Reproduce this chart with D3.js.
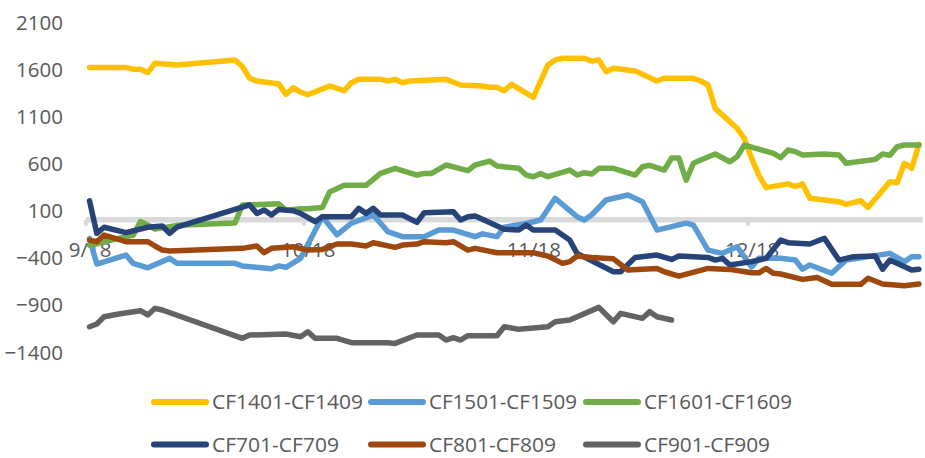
<!DOCTYPE html>
<html>
<head>
<meta charset="utf-8">
<script src="https://cdn.jsdelivr.net/npm/d3@7"></script>
<style>
  html, body { margin: 0; padding: 0; background: #fff; }
  svg { display: block; }
  text { font-family: "Open Sans", "Liberation Sans", sans-serif; fill: #595959; }
</style>
</head>
<body>
<svg id="chart" width="925" height="458"></svg>
<script>
// Cotton futures calendar spreads (near contract minus September contract), by trading date
const seriesNames = ["CF1401-CF1409", "CF1501-CF1509", "CF1601-CF1609", "CF701-CF709", "CF801-CF809", "CF901-CF909"];

const cf1401 = [
  ["2013-09-18", 1615], ["2013-09-23", 1615], ["2013-09-24", 1595], ["2013-09-25", 1595], ["2013-09-26", 1560],
  ["2013-09-27", 1660], ["2013-09-30", 1640], ["2013-10-08", 1694], ["2013-10-09", 1625], ["2013-10-10", 1500],
  ["2013-10-11", 1470], ["2013-10-14", 1440], ["2013-10-15", 1330], ["2013-10-16", 1400], ["2013-10-17", 1354],
  ["2013-10-18", 1325], ["2013-10-21", 1418], ["2013-10-23", 1368], ["2013-10-24", 1453], ["2013-10-25", 1489],
  ["2013-10-28", 1489], ["2013-10-29", 1471], ["2013-10-30", 1489], ["2013-10-31", 1453], ["2013-11-01", 1471],
  ["2013-11-06", 1489], ["2013-11-08", 1429], ["2013-11-11", 1418], ["2013-11-12", 1404], ["2013-11-13", 1404],
  ["2013-11-14", 1368], ["2013-11-15", 1436], ["2013-11-18", 1298], ["2013-11-20", 1641], ["2013-11-21", 1694],
  ["2013-11-22", 1712], ["2013-11-25", 1712], ["2013-11-26", 1683], ["2013-11-27", 1694], ["2013-11-28", 1570],
  ["2013-11-29", 1606], ["2013-12-02", 1577], ["2013-12-05", 1471], ["2013-12-06", 1500], ["2013-12-10", 1500],
  ["2013-12-11", 1471], ["2013-12-12", 1429], ["2013-12-13", 1181], ["2013-12-16", 969], ["2013-12-17", 863],
  ["2013-12-18", 650], ["2013-12-19", 470], ["2013-12-20", 340], ["2013-12-23", 380], ["2013-12-24", 352],
  ["2013-12-25", 380], ["2013-12-26", 227], ["2013-12-30", 191], ["2013-12-31", 163], ["2014-01-02", 202],
  ["2014-01-03", 130], ["2014-01-06", 403], ["2014-01-07", 392], ["2014-01-08", 598], ["2014-01-09", 545],
  ["2014-01-10", 800]
];

const cf1501 = [
  ["2013-09-18", -200], ["2013-09-19", -470], ["2013-09-23", -375], ["2013-09-24", -463], ["2013-09-26", -510],
  ["2013-09-29", -410], ["2013-09-30", -463], ["2013-10-08", -463], ["2013-10-09", -490], ["2013-10-13", -520],
  ["2013-10-14", -490], ["2013-10-15", -505], ["2013-10-17", -410], ["2013-10-20", 32], ["2013-10-22", -160],
  ["2013-10-24", -36], ["2013-10-27", 50], ["2013-10-29", -127], ["2013-10-31", -180], ["2013-11-03", -180],
  ["2013-11-05", -110], ["2013-11-07", -110], ["2013-11-10", -180], ["2013-11-11", -150], ["2013-11-13", -180],
  ["2013-11-14", -80], ["2013-11-17", -40], ["2013-11-19", -3], ["2013-11-21", 227], ["2013-11-24", 32],
  ["2013-11-25", -3], ["2013-11-26", 50], ["2013-11-28", 209], ["2013-12-01", 262], ["2013-12-03", 191],
  ["2013-12-05", -110], ["2013-12-09", -36], ["2013-12-10", -57], ["2013-12-12", -322], ["2013-12-14", -357],
  ["2013-12-16", -287], ["2013-12-18", -500], ["2013-12-19", -410], ["2013-12-22", -410], ["2013-12-24", -427],
  ["2013-12-25", -525], ["2013-12-26", -480], ["2013-12-29", -568], ["2013-12-31", -427], ["2014-01-06", -357],
  ["2014-01-08", -445], ["2014-01-09", -392], ["2014-01-10", -392]
];

const cf1601 = [
  ["2013-09-18", -270], ["2013-09-19", -255], ["2013-09-20", -235], ["2013-09-23", -180], ["2013-09-24", -165],
  ["2013-09-25", -20], ["2013-09-26", -55], ["2013-09-27", -100], ["2013-09-30", -60], ["2013-10-08", -35],
  ["2013-10-09", 155], ["2013-10-14", 170], ["2013-10-15", 100], ["2013-10-17", 115], ["2013-10-18", 115],
  ["2013-10-20", 130], ["2013-10-21", 294], ["2013-10-23", 365], ["2013-10-26", 365], ["2013-10-28", 491],
  ["2013-10-30", 545], ["2013-11-02", 474], ["2013-11-03", 491], ["2013-11-04", 491], ["2013-11-06", 580],
  ["2013-11-09", 520], ["2013-11-10", 580], ["2013-11-12", 622], ["2013-11-13", 569], ["2013-11-16", 545],
  ["2013-11-17", 474], ["2013-11-18", 456], ["2013-11-19", 491], ["2013-11-20", 456], ["2013-11-23", 527],
  ["2013-11-24", 474], ["2013-11-25", 498], ["2013-11-26", 484], ["2013-11-27", 545], ["2013-11-29", 545],
  ["2013-12-02", 474], ["2013-12-03", 562], ["2013-12-04", 577], ["2013-12-06", 527], ["2013-12-07", 654],
  ["2013-12-08", 654], ["2013-12-09", 420], ["2013-12-10", 598], ["2013-12-11", 633], ["2013-12-13", 697],
  ["2013-12-15", 615], ["2013-12-16", 668], ["2013-12-17", 792], ["2013-12-21", 704], ["2013-12-22", 658],
  ["2013-12-23", 739], ["2013-12-24", 722], ["2013-12-25", 686], ["2013-12-28", 697], ["2013-12-30", 686],
  ["2013-12-31", 598], ["2014-01-04", 640], ["2014-01-05", 697], ["2014-01-06", 683], ["2014-01-07", 774],
  ["2014-01-08", 792], ["2014-01-10", 792]
];

const cf701 = [
  ["2013-09-18", 200], ["2013-09-19", -144], ["2013-09-20", -80], ["2013-09-23", -137], ["2013-09-26", -80],
  ["2013-09-28", -67], ["2013-09-29", -144], ["2013-09-30", -80], ["2013-10-10", 156], ["2013-10-11", 67],
  ["2013-10-12", 103], ["2013-10-13", 50], ["2013-10-14", 109], ["2013-10-16", 95], ["2013-10-17", 67],
  ["2013-10-19", -21], ["2013-10-20", 32], ["2013-10-24", 32], ["2013-10-25", 120], ["2013-10-26", 67],
  ["2013-10-27", 120], ["2013-10-28", 50], ["2013-10-31", 50], ["2013-11-02", -28], ["2013-11-03", 74],
  ["2013-11-07", 85], ["2013-11-08", -3], ["2013-11-09", 32], ["2013-11-10", 39], ["2013-11-11", 4],
  ["2013-11-14", -102], ["2013-11-16", -110], ["2013-11-17", -57], ["2013-11-18", -110], ["2013-11-21", -110],
  ["2013-11-23", -216], ["2013-11-24", -357], ["2013-11-29", -552], ["2013-11-30", -552], ["2013-12-02", -400],
  ["2013-12-05", -375], ["2013-12-07", -421], ["2013-12-08", -386], ["2013-12-12", -400], ["2013-12-13", -428],
  ["2013-12-14", -410], ["2013-12-15", -481], ["2013-12-18", -445], ["2013-12-20", -410], ["2013-12-22", -216],
  ["2013-12-23", -244], ["2013-12-26", -258], ["2013-12-28", -197], ["2013-12-30", -428], ["2014-01-01", -392],
  ["2014-01-04", -386], ["2014-01-05", -526], ["2014-01-06", -428], ["2014-01-09", -533], ["2014-01-10", -526]
];

const cf801 = [
  ["2013-09-18", -216], ["2013-09-19", -233], ["2013-09-20", -163], ["2013-09-22", -209], ["2013-09-23", -233],
  ["2013-09-26", -233], ["2013-09-27", -279], ["2013-09-28", -322], ["2013-09-29", -332], ["2013-10-09", -304],
  ["2013-10-11", -279], ["2013-10-12", -350], ["2013-10-13", -304], ["2013-10-16", -287], ["2013-10-18", -322],
  ["2013-10-20", -315], ["2013-10-22", -258], ["2013-10-24", -258], ["2013-10-26", -279], ["2013-10-27", -244],
  ["2013-10-30", -294], ["2013-10-31", -269], ["2013-11-02", -258], ["2013-11-03", -233], ["2013-11-06", -244],
  ["2013-11-07", -233], ["2013-11-09", -322], ["2013-11-10", -304], ["2013-11-13", -350], ["2013-11-18", -350],
  ["2013-11-20", -386], ["2013-11-22", -463], ["2013-11-23", -445], ["2013-11-24", -386], ["2013-11-26", -400],
  ["2013-11-29", -415], ["2013-12-01", -533], ["2013-12-05", -517], ["2013-12-06", -552], ["2013-12-08", -598],
  ["2013-12-12", -517], ["2013-12-15", -527], ["2013-12-18", -563], ["2013-12-19", -563], ["2013-12-20", -517],
  ["2013-12-21", -569], ["2013-12-22", -576], ["2013-12-25", -633], ["2013-12-27", -612], ["2013-12-29", -685],
  ["2014-01-02", -685], ["2014-01-03", -621], ["2014-01-05", -682], ["2014-01-08", -700], ["2014-01-10", -682]
];

const cf901 = [
  ["2013-09-18", -1135], ["2013-09-19", -1106], ["2013-09-20", -1029], ["2013-09-22", -1000], ["2013-09-25", -965],
  ["2013-09-26", -1010], ["2013-09-27", -940], ["2013-09-28", -958], ["2013-10-09", -1258], ["2013-10-10", -1223],
  ["2013-10-15", -1212], ["2013-10-17", -1241], ["2013-10-18", -1188], ["2013-10-19", -1258], ["2013-10-22", -1258],
  ["2013-10-24", -1305], ["2013-10-29", -1305], ["2013-10-30", -1312], ["2013-11-01", -1252], ["2013-11-02", -1223],
  ["2013-11-05", -1223], ["2013-11-06", -1276], ["2013-11-07", -1252], ["2013-11-08", -1276], ["2013-11-09", -1230],
  ["2013-11-13", -1230], ["2013-11-14", -1135], ["2013-11-16", -1163], ["2013-11-20", -1135], ["2013-11-21", -1082],
  ["2013-11-23", -1064], ["2013-11-27", -930], ["2013-11-29", -1082], ["2013-11-30", -993], ["2013-12-03", -1046],
  ["2013-12-04", -975], ["2013-12-05", -1029], ["2013-12-07", -1064]
];

const seriesValues = [cf1401, cf1501, cf1601, cf701, cf801, cf901];

const yTickValues = [2100, 1600, 1100, 600, 100, -400, -900, -1400];
const xTickLabels = ["9/18", "10/18", "11/18", "12/18"];
const firstDay = "2013-09-18";
const lastDay = "2014-01-10";

// Excel-style palette for the six series
const palette = ["#FFC000", "#5B9BD5", "#70AD47", "#264478", "#9E480E", "#636363"];

const svg = d3.select("#chart");
const parse = d3.timeParse("%Y-%m-%d");
const DAY = 864e5;
const labelDate = s => {
  const [m, d] = s.split("/").map(Number);
  return new Date(m >= 9 ? 2013 : 2014, m - 1, d);
};

// Date axis: each day takes a slot, points sit at slot centres
const x = d3.scaleTime()
  .domain([new Date(+parse(firstDay) - DAY / 2), new Date(+parse(lastDay) + DAY / 2)])
  .range([85.9, 922.6]);
const y = d3.scaleLinear().domain([-1400, 2100]).range([351.7, 21.7]);

const fontSize = 20.5;

// Value axis labels (no line, no gridlines)
const yAxis = svg.append("g")
  .attr("transform", "translate(63,0)")
  .call(d3.axisLeft(y).tickValues(yTickValues).tickSize(0).tickPadding(0).tickFormat(d3.format("d")));
yAxis.select(".domain").remove();
yAxis.selectAll("text")
  .attr("font-size", fontSize)
  .attr("dy", "0.36em")
  .style("font-family", null);

// Category (date) axis crossing at zero
const y0 = y(0);
svg.append("line")
  .attr("x1", x.range()[0]).attr("x2", x.range()[1])
  .attr("y1", y0).attr("y2", y0)
  .attr("stroke", "#D9D9D9").attr("stroke-width", 5.5);

const tickDates = xTickLabels.map(labelDate);
svg.append("g").selectAll("line")
  .data(tickDates)
  .join("line")
  .attr("x1", d => x(new Date(+d - DAY / 2)))
  .attr("x2", d => x(new Date(+d - DAY / 2)))
  .attr("y1", y0).attr("y2", y0 + 6)
  .attr("stroke", "#D9D9D9").attr("stroke-width", 4);

const xAxis = svg.append("g")
  .attr("transform", `translate(0,${y0})`)
  .call(d3.axisBottom(x).tickValues(tickDates).tickSize(0).tickPadding(0)
    .tickFormat((d, i) => xTickLabels[i]));
xAxis.select(".domain").remove();
xAxis.selectAll("text")
  .attr("font-size", fontSize)
  .attr("y", 37.5)
  .attr("dy", 0)
  .style("font-family", null);

// Series lines
const line = d3.line()
  .defined(d => d[1] != null)
  .x(d => x(parse(d[0])))
  .y(d => y(d[1]));

svg.append("g").selectAll("path")
  .data(seriesValues)
  .join("path")
  .attr("d", line)
  .attr("fill", "none")
  .attr("stroke", (d, i) => palette[i])
  .attr("stroke-width", 5.5)
  .attr("stroke-linejoin", "round")
  .attr("stroke-linecap", "round");

// Legend: two rows of three
const legendCols = [152, 369, 584];
const legendRows = [402, 444.5];
const legendTextWidths = [151, 148, 148, 127, 127, 126];
const legend = svg.append("g").selectAll("g")
  .data(seriesNames)
  .join("g")
  .attr("transform", (d, i) => `translate(${legendCols[i % 3]},${legendRows[Math.floor(i / 3)]})`);
legend.append("line")
  .attr("x1", 2).attr("x2", 54)
  .attr("stroke", (d, i) => palette[i])
  .attr("stroke-width", 6)
  .attr("stroke-linecap", "round");
legend.append("text")
  .attr("x", 60)
  .attr("dy", "0.35em")
  .attr("font-size", fontSize)
  .attr("textLength", (d, i) => legendTextWidths[i])
  .attr("lengthAdjust", "spacingAndGlyphs")
  .text(d => d);
</script>
</body>
</html>
